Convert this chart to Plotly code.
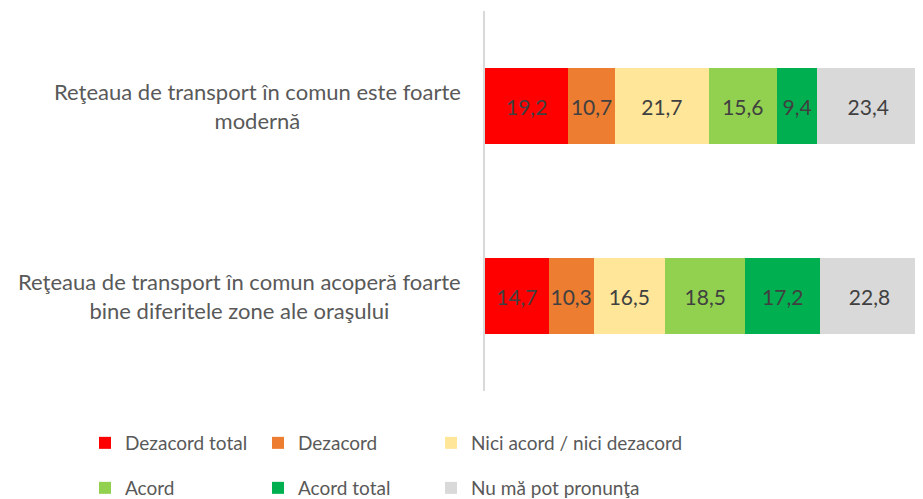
import plotly.graph_objects as go

statements = [
    "Reţeaua de transport în comun este foarte<br>modernă",
    "Reţeaua de transport în comun acoperă foarte<br>bine diferitele zone ale oraşului",
]
answers = [
    "Dezacord total",
    "Dezacord",
    "Nici acord / nici dezacord",
    "Acord",
    "Acord total",
    "Nu mă pot pronunţa",
]
values = {
    "Dezacord total": [19.2, 14.7],
    "Dezacord": [10.7, 10.3],
    "Nici acord / nici dezacord": [21.7, 16.5],
    "Acord": [15.6, 18.5],
    "Acord total": [9.4, 17.2],
    "Nu mă pot pronunţa": [23.4, 22.8],
}
colors = ["#FF0000", "#ED7D31", "#FFE699", "#92D050", "#00B050", "#D9D9D9"]

FONT = "Lato"
TXT = "#595959"
# the page body keeps its 8px margin, so the figure is 8px smaller
OFF = 8
W, H = 923 - OFF, 499 - OFF

fig = go.Figure()
legends = {}
for i, name in enumerate(answers):
    key = "legend" if i == 0 else f"legend{i + 1}"
    fig.add_trace(
        go.Bar(
            y=statements,
            x=values[name],
            name=name,
            orientation="h",
            marker=dict(color=colors[i], line=dict(width=0)),
            texttemplate="%{x:.1f}",
            textposition="inside",
            insidetextanchor="middle",
            textangle=0,
            textfont=dict(family=FONT, size=21, color="#404040"),
            legend=key,
        )
    )
    # one legend per entry so the 3 x 2 grid sits where the original has it
    col, row = i % 3, i // 3
    legends[key] = dict(
        xref="container",
        yref="container",
        x=(85 - OFF + col * 173) / W,
        y=1 - (443 - OFF + row * 45) / H,
        xanchor="left",
        yanchor="middle",
        font=dict(family=FONT, size=19, color=TXT),
        bgcolor="rgba(0,0,0,0)",
        itemclick=False,
    )

# category labels, centred like the original
for s in statements:
    fig.add_annotation(
        x=0, y=s, xref="paper", yref="y",
        text=s, showarrow=False, xanchor="right", align="center",
        xshift=-22, font=dict(family=FONT, size=22, color=TXT),
    )

fig.update_layout(
    width=W,
    height=H,
    margin=dict(l=485 - OFF, r=4, t=11 - OFF, b=108, autoexpand=False),
    plot_bgcolor="white",
    paper_bgcolor="white",
    barmode="stack",
    bargap=0.6,
    separators=", ",
    showlegend=True,
    xaxis=dict(range=[0, 100], visible=False, fixedrange=True),
    yaxis=dict(
        autorange="reversed",
        showticklabels=False,
        showline=True,
        linecolor="#D9D9D9",
        linewidth=1.5,
        showgrid=False,
        zeroline=False,
    ),
    uniformtext=dict(minsize=21, mode="show"),
    **legends,
)

fig.write_html("out.html")
